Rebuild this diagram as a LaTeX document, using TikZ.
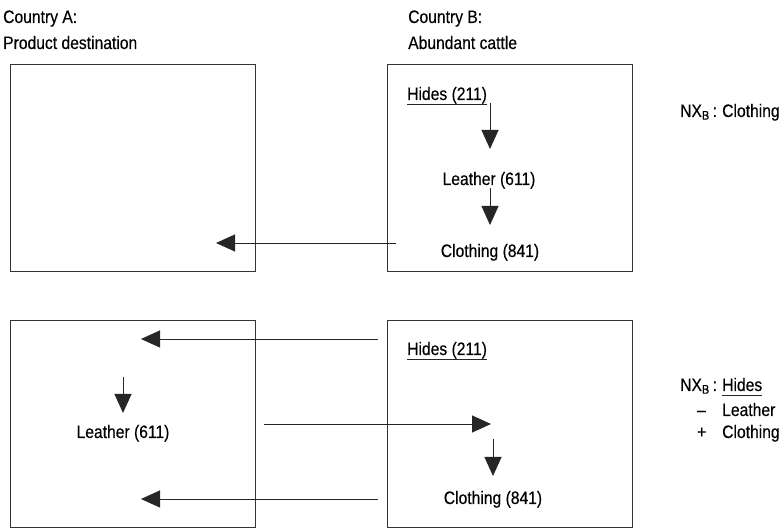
\documentclass[tikz,border=0pt]{standalone}
\usepackage{fontspec}
\setmainfont{Liberation Sans}[FakeStretch=0.87,FakeBold=0.3]
\usetikzlibrary{arrows.meta}
\tikzset{
  box/.style={draw=black!80, line width=1.1pt, minimum width=245pt, minimum height=207pt, inner sep=0pt, anchor=south west},
  lbl/.style={font=\fontsize{18}{21}\selectfont, inner sep=0pt, anchor=base west},
  clbl/.style={font=\fontsize{18}{21}\selectfont, inner sep=0pt, anchor=base},
  arr/.style={draw=black!85, line width=0.9pt, -{Triangle[length=19pt,width=17pt]}},
  uline/.style={draw=black!85, line width=0.8pt}
}
\begin{document}
\begin{tikzpicture}[x=1pt,y=1pt]
\useasboundingbox (0,0) rectangle (784,529);
% headers
\node[lbl] (hA1) at (3,506) {Country A:};
\node[lbl] (hA2) at (3,480) {Product destination};
\node[lbl] (hB1) at (408,506) {Country B:};
\node[lbl] (hB2) at (408,480) {Abundant cattle};
% boxes
\node[box] (TL) at (10,257) {};
\node[box] (TR) at (387,257) {};
\node[box] (BL) at (10,1) {};
\node[box] (BR) at (387,1) {};
% top right contents
\node[lbl] (th) at (407,429) {Hides (211)};
\draw[uline] ([yshift=-4.5pt]th.base west) -- ([yshift=-4.5pt]th.base east);
\node[clbl] (tl) at (489,344) {Leather (611)};
\node[clbl] (tc) at (490,272) {Clothing (841)};
\coordinate (a1s) at (490,426);
\coordinate (a1e) at (490,380);
\coordinate (a2s) at (490,341);
\coordinate (a2e) at (490,304);
\draw[arr] (a1s) -- (a1e);
\draw[arr] (a2s) -- (a2e);
\coordinate (t1s) at (396,286);
\coordinate (t1e) at (216,286);
\draw[arr] (t1s) -- (t1e);
% NX top
\node[lbl] (nx1) at (680,412) {NX\textsubscript{B}\,:};
\node[lbl] (nx1c) at (722,412) {Clothing};
% bottom right contents
\node[lbl] (bh) at (407,174) {Hides (211)};
\draw[uline] ([yshift=-4.5pt]bh.base west) -- ([yshift=-4.5pt]bh.base east);
\node[clbl] (bc) at (493,25) {Clothing (841)};
\node[clbl] (bl) at (123,91) {Leather (611)};
\coordinate (b1s) at (378,190);
\coordinate (b1e) at (141,190);
\draw[arr] (b1s) -- (b1e);
\coordinate (b2s) at (378,30);
\coordinate (b2e) at (141,30);
\draw[arr] (b2s) -- (b2e);
\coordinate (b3s) at (264,105);
\coordinate (b3e) at (491,105);
\draw[arr] (b3s) -- (b3e);
\coordinate (d1s) at (123,152);
\coordinate (d1e) at (123,116);
\draw[arr] (d1s) -- (d1e);
\coordinate (d2s) at (493,90);
\coordinate (d2e) at (493,53);
\draw[arr] (d2s) -- (d2e);
% NX bottom
\node[lbl] (nx2) at (680,138) {NX\textsubscript{B}\,:};
\node[lbl] (nxh) at (722,138) {Hides};
\draw[uline] ([yshift=-4pt]nxh.base west) -- ([yshift=-4pt]nxh.base east);
\node[lbl] (nxmsign) at (697,113) {--};
\node[lbl] (nxm) at (722,113) {Leather};
\node[lbl] (nxpsign) at (697,91) {+};
\node[lbl] (nxp) at (722,91) {Clothing};
\end{tikzpicture}
\end{document}
